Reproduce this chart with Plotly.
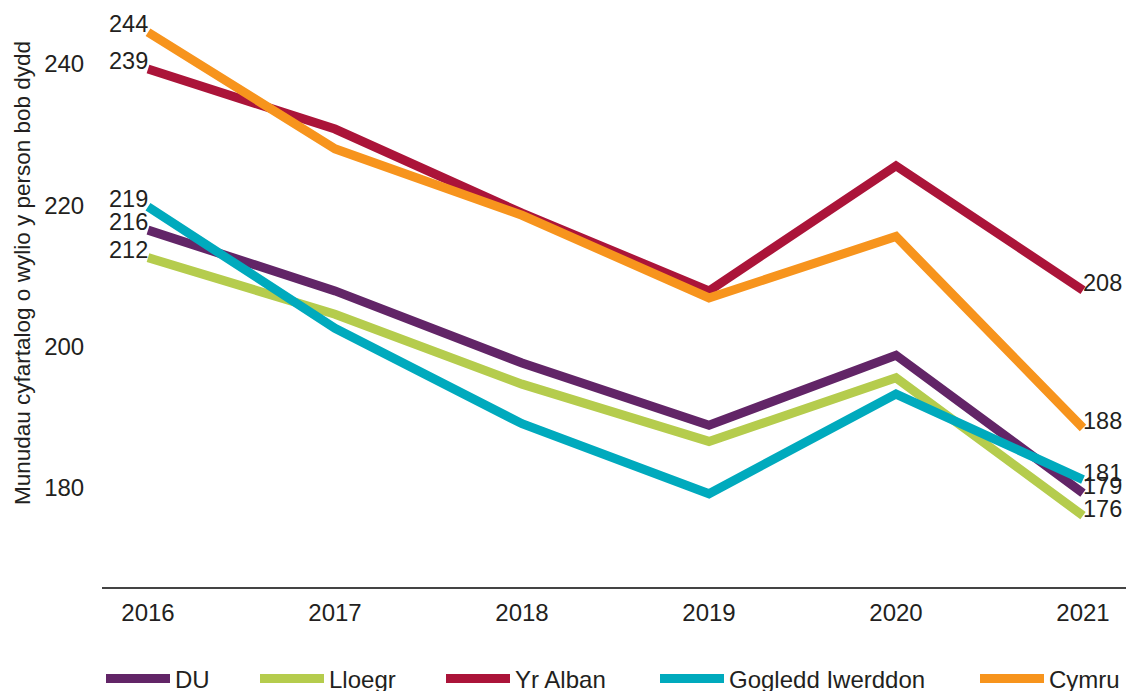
import plotly.graph_objects as go

years = ["2016", "2017", "2018", "2019", "2020", "2021"]
series_names = ["DU", "Lloegr", "Yr Alban", "Gogledd Iwerddon", "Cymru"]
du = [216.5, 207.9, 197.7, 188.9, 198.8, 179.3]
lloegr = [212.6, 204.6, 194.7, 186.6, 195.6, 176.1]
yr_alban = [239.3, 230.8, 218.9, 207.9, 225.6, 208.0]
gogledd = [219.8, 202.6, 189.1, 179.2, 193.3, 181.2]
cymru = [244.5, 228.0, 218.6, 206.9, 215.6, 188.5]
colors = ["#622567", "#b5cc4d", "#ab1439", "#00aabd", "#f7941d"]
values = [du, lloegr, yr_alban, gogledd, cymru]
legend_line_px = [106, 260, 446, 660, 980]

FONT = "Liberation Sans, Arial, sans-serif"
TXT = "#231f20"
L, W = 102, 1024
FIG_W, FIG_H = 1126, 691
PLOT_H = 587

fig = go.Figure()
legend_layouts = {}
for i, (name, vals, col) in enumerate(zip(series_names, values, colors)):
    lname = "legend" if i == 0 else f"legend{i+1}"
    fig.add_trace(go.Scatter(
        x=years, y=vals, mode="lines", name=name, legend=lname,
        line=dict(color=col, width=9), hoverinfo="x+y+name"))
    legend_layouts[lname] = dict(
        orientation="h", x=(legend_line_px[i] - 107) / W, xanchor="left",
        y=-(679 - PLOT_H) / PLOT_H, yanchor="middle", itemwidth=64,
        font=dict(family=FONT, size=24, color=TXT), bgcolor="rgba(0,0,0,0)")

annotations = []
for vals in values:
    annotations.append(dict(x=0, y=vals[0], xref="x", yref="y",
                            text=str(int(vals[0])), showarrow=False,
                            xanchor="right", yanchor="middle", yshift=8, xshift=2,
                            font=dict(family=FONT, size=23.5, color=TXT)))
    annotations.append(dict(x=len(years) - 1, y=vals[-1], xref="x", yref="y",
                            text=str(int(vals[-1])), showarrow=False,
                            xanchor="left", yanchor="middle", yshift=7, xshift=-2,
                            font=dict(family=FONT, size=23.5, color=TXT)))
annotations.append(dict(x=(22 - L) / W, y=(PLOT_H - 273) / PLOT_H, xref="paper", yref="paper",
                        text="Munudau cyfartalog o wylio y person bob dydd",
                        textangle=-90, showarrow=False, xanchor="center", yanchor="middle",
                        font=dict(family=FONT, size=22.5, color=TXT)))
fig.update_layout(
    width=FIG_W, height=FIG_H,
    margin=dict(l=L, r=0, t=0, b=FIG_H - PLOT_H, autoexpand=False),
    paper_bgcolor="white", plot_bgcolor="white",
    font=dict(family=FONT, size=24, color=TXT),
    showlegend=True,
    annotations=annotations,
    xaxis=dict(type="category", range=[-0.246, 5.23], showgrid=False, zeroline=False,
               automargin=False,
               showline=True, linecolor="#444", linewidth=2, ticks="outside",
               ticklen=3, tickcolor="rgba(0,0,0,0)", tickfont=dict(size=24, color=TXT)),
    yaxis=dict(range=[166.0, 249.06], tickvals=[180, 200, 220, 240], showgrid=False,
               automargin=False,
               zeroline=False, showline=False, ticks="outside", ticklen=12,
               tickcolor="rgba(0,0,0,0)", tickfont=dict(size=24, color=TXT)),
    **legend_layouts,
)
fig.write_html("out.html", config={"displayModeBar": False},
               post_script="document.body.style.margin='0';document.body.style.overflow='hidden';")
